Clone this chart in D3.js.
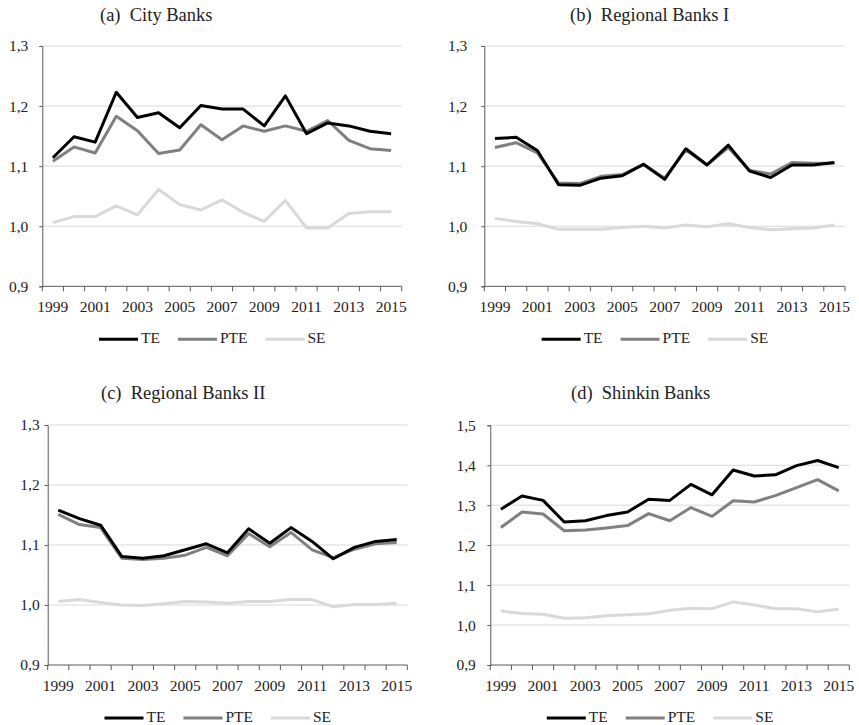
<!DOCTYPE html>
<html>
<head>
<meta charset="utf-8">
<script src="https://cdn.jsdelivr.net/npm/d3@7"></script>
<style>
  body { margin: 0; background: #fff; }
  svg text { font-family: "Liberation Serif", "Times New Roman", serif; fill: #222; }
</style>
</head>
<body>
<div id="chart"></div>
<script>
// years on the x axis
const years = d3.range(1999, 2016).map(String);

// (a) City Banks
const cityTE  = [1.114, 1.149, 1.140, 1.223, 1.181, 1.189, 1.164, 1.201, 1.195, 1.195, 1.167, 1.217, 1.154, 1.172, 1.167, 1.158, 1.154];
const cityPTE = [1.108, 1.132, 1.122, 1.183, 1.159, 1.121, 1.127, 1.169, 1.144, 1.167, 1.158, 1.167, 1.158, 1.176, 1.143, 1.129, 1.126];
const citySE  = [1.006, 1.016, 1.016, 1.034, 1.019, 1.061, 1.036, 1.027, 1.044, 1.023, 1.008, 1.043, 0.997, 0.997, 1.021, 1.024, 1.024];

// (b) Regional Banks I
const reg1TE  = [1.146, 1.148, 1.126, 1.069, 1.068, 1.080, 1.084, 1.103, 1.078, 1.129, 1.102, 1.135, 1.092, 1.081, 1.102, 1.102, 1.106];
const reg1PTE = [1.131, 1.139, 1.122, 1.072, 1.071, 1.083, 1.086, 1.103, 1.080, 1.127, 1.102, 1.131, 1.093, 1.087, 1.106, 1.105, 1.105];
const reg1SE  = [1.013, 1.008, 1.004, 0.995, 0.995, 0.995, 0.998, 1.000, 0.997, 1.002, 0.999, 1.004, 0.998, 0.994, 0.996, 0.997, 1.002];

// (c) Regional Banks II
const reg2TE  = [1.158, 1.144, 1.133, 1.081, 1.078, 1.082, 1.092, 1.102, 1.087, 1.127, 1.103, 1.129, 1.106, 1.077, 1.096, 1.106, 1.109];
const reg2PTE = [1.151, 1.134, 1.129, 1.078, 1.076, 1.078, 1.083, 1.096, 1.082, 1.119, 1.097, 1.121, 1.092, 1.079, 1.093, 1.102, 1.104];
const reg2SE  = [1.006, 1.009, 1.004, 1.000, 0.999, 1.002, 1.006, 1.005, 1.003, 1.006, 1.006, 1.009, 1.009, 0.997, 1.001, 1.001, 1.003];

// (d) Shinkin Banks
const shinTE  = [1.290, 1.323, 1.312, 1.258, 1.261, 1.274, 1.283, 1.315, 1.312, 1.352, 1.326, 1.388, 1.373, 1.376, 1.399, 1.412, 1.394];
const shinPTE = [1.244, 1.283, 1.278, 1.236, 1.238, 1.243, 1.249, 1.279, 1.261, 1.294, 1.272, 1.311, 1.308, 1.324, 1.344, 1.364, 1.336];
const shinSE  = [1.035, 1.029, 1.027, 1.017, 1.018, 1.023, 1.026, 1.028, 1.037, 1.042, 1.041, 1.058, 1.050, 1.041, 1.041, 1.033, 1.040];

const seriesNames = ["TE", "PTE", "SE"];
const seriesColors = ["#000000", "#808080", "#d9d9d9"];

const serif = "Liberation Serif";

const panels = [
  { title: "(a)  City Banks",        data: [cityTE, cityPTE, citySE], yMax: 1.3, box: [42.3, 401.7, 46, 286.3],  titleX: 100, titleY: 21,  pad: 11 },
  { title: "(b)  Regional Banks I",  data: [reg1TE, reg1PTE, reg1SE], yMax: 1.3, box: [484.3, 845, 46, 286.3],   titleX: 570, titleY: 21,  pad: 14 },
  { title: "(c)  Regional Banks II", data: [reg2TE, reg2PTE, reg2SE], yMax: 1.3, box: [47.7, 407.3, 425, 665],    titleX: 101, titleY: 399, pad: 5 },
  { title: "(d)  Shinkin Banks",     data: [shinTE, shinPTE, shinSE], yMax: 1.5, box: [490.3, 849.3, 425.3, 665], titleX: 571, titleY: 399, pad: 11.5 }
];

const width = 859, height = 725;

const svg = d3.select("#chart")
              .append("svg")
              .attr("width", width)
              .attr("height", height)
              .attr("font-family", serif);

const fmt = d => d3.format(".1f")(d).replace(".", ",");

panels.forEach(p => {
  const [x0, x1, y0, y1] = p.box;

  const x = d3.scaleBand().domain(years).range([x0, x1]);
  const y = d3.scaleLinear().domain([0.9, p.yMax]).range([y1, y0]);
  const yTicks = d3.range(0, Math.round((p.yMax - 0.9) * 10) + 1).map(i => +(0.9 + i * 0.1).toFixed(1));

  const g = svg.append("g");

  // title
  g.append("text")
    .attr("x", p.titleX)
    .attr("y", p.titleY)
    .attr("font-family", serif)
    .style("font-size", "18.5px")
    .style("white-space", "pre")
    .text(p.title);

  // gridlines
  g.append("g")
    .selectAll("line")
    .data(yTicks.slice(1))
    .join("line")
      .attr("x1", x0).attr("x2", x1)
      .attr("y1", d => y(d)).attr("y2", d => y(d))
      .attr("stroke", "#d9d9d9")
      .attr("stroke-width", 1);

  // y axis
  const yAxis = g.append("g")
    .attr("transform", `translate(${x0},0)`)
    .call(d3.axisLeft(y).tickValues(yTicks).tickFormat(fmt).tickSize(3).tickPadding(p.pad))
    .attr("font-family", serif);
  yAxis.select(".domain").attr("stroke", "#595959");
  yAxis.selectAll(".tick line").attr("stroke", "#595959");
  yAxis.selectAll("text").style("font-size", "15.5px").attr("fill", "#222");

  // x axis: ticks on band edges, labels on every second year
  const xAxis = g.append("g")
    .attr("transform", `translate(0,${y1})`);
  xAxis.append("line")
    .attr("x1", x0).attr("x2", x1)
    .attr("stroke", "#595959");
  xAxis.selectAll("line.tk")
    .data(years.concat(["end"]))
    .join("line")
      .attr("class", "tk")
      .attr("x1", (d, i) => i < years.length ? x(d) : x1)
      .attr("x2", (d, i) => i < years.length ? x(d) : x1)
      .attr("y1", 0).attr("y2", 5)
      .attr("stroke", "#595959");
  xAxis.selectAll("text")
    .data(years.filter((d, i) => i % 2 === 0))
    .join("text")
      .attr("x", d => x(d) + x.bandwidth() / 2)
      .attr("y", 26)
      .attr("text-anchor", "middle")
      .attr("font-family", serif)
      .style("font-size", "15.5px")
      .text(d => d);

  // lines
  const line = d3.line()
    .x((d, i) => x(years[i]) + x.bandwidth() / 2)
    .y(d => y(d));

  [2, 1, 0].forEach(k => {
    g.append("path")
      .datum(p.data[k])
      .attr("fill", "none")
      .attr("stroke", seriesColors[k])
      .attr("stroke-width", 3)
      .attr("stroke-linejoin", "round")
      .attr("d", line);
  });

  // legend
  const lg = g.append("g")
    .attr("transform", `translate(${(x0 + x1) / 2 - 123},${y1 + 53})`);
  let cx = 0;
  seriesNames.forEach((name, k) => {
    lg.append("line")
      .attr("x1", cx).attr("x2", cx + 39)
      .attr("y1", 0).attr("y2", 0)
      .attr("stroke", seriesColors[k])
      .attr("stroke-width", 3);
    const t = lg.append("text")
      .attr("x", cx + 42)
      .attr("y", 4)
      .attr("font-family", serif)
      .style("font-size", "15.5px")
      .text(name);
    cx += 42 + t.node().getComputedTextLength() + 18;
  });
});
</script>
</body>
</html>
